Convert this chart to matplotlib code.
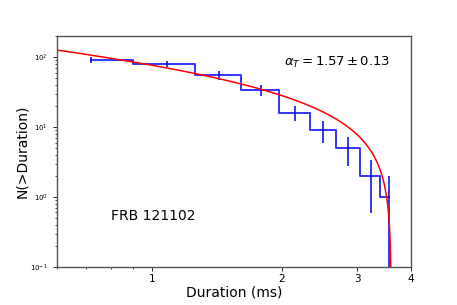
import numpy as np
import matplotlib.pyplot as plt

# cumulative duration distribution (linear bins, ms)
duration = [0.72, 1.08, 1.43, 1.79, 2.15, 2.50, 2.86, 3.23, 3.56]
counts = [92, 80, 55, 34, 16, 9, 5, 2, 1]
errors = np.sqrt(counts)

# power-law fit N(>T) = A (T^(1-a) - Tmax^(1-a))
alpha = 1.57
amp = 147.0
t_max = 3.6

t = np.concatenate([np.linspace(0.5, 3.5, 300), np.linspace(3.5, t_max, 300)])
fit = amp * (t ** (1 - alpha) - t_max ** (1 - alpha))

fig = plt.figure(figsize=(4.57, 3.05), dpi=100)
ax = fig.add_axes([0.125, 0.125, 0.774, 0.757])

ax.step(duration, counts, where='mid', color='#3333ff', lw=1.4)
ax.errorbar(duration, counts, yerr=errors, fmt='none', ecolor='#0000ee', elinewidth=1.1)
ax.plot(t, fit, color='red', lw=1.1)

ax.set_xscale('log')
ax.set_yscale('log')
ax.set_xlim(0.6, 4)
ax.set_ylim(0.1, 200)
ax.set_xticks([1, 2, 3, 4])
ax.set_xticklabels(['1', '2', '3', '4'], fontsize=7.5)
ax.xaxis.set_minor_formatter(plt.NullFormatter())
ax.tick_params(axis='y', which='major', labelsize=5, length=3, width=0.6)
ax.tick_params(axis='x', which='major', length=3, width=0.6, pad=2)
ax.tick_params(which='minor', length=1.5, width=0.5)
for s in ax.spines.values():
    s.set_color('#555555')
    s.set_linewidth(1.0)

ax.set_xlabel('Duration (ms)', fontsize=10, labelpad=1)
ax.set_ylabel('N(>Duration)', fontsize=10, labelpad=1)
ax.text(0.64, 0.87, r'$\alpha_T = 1.57 \pm 0.13$', transform=ax.transAxes, fontsize=9.5)
ax.text(0.153, 0.205, 'FRB 121102', transform=ax.transAxes, fontsize=10)

fig.savefig('out.png', dpi=100)
